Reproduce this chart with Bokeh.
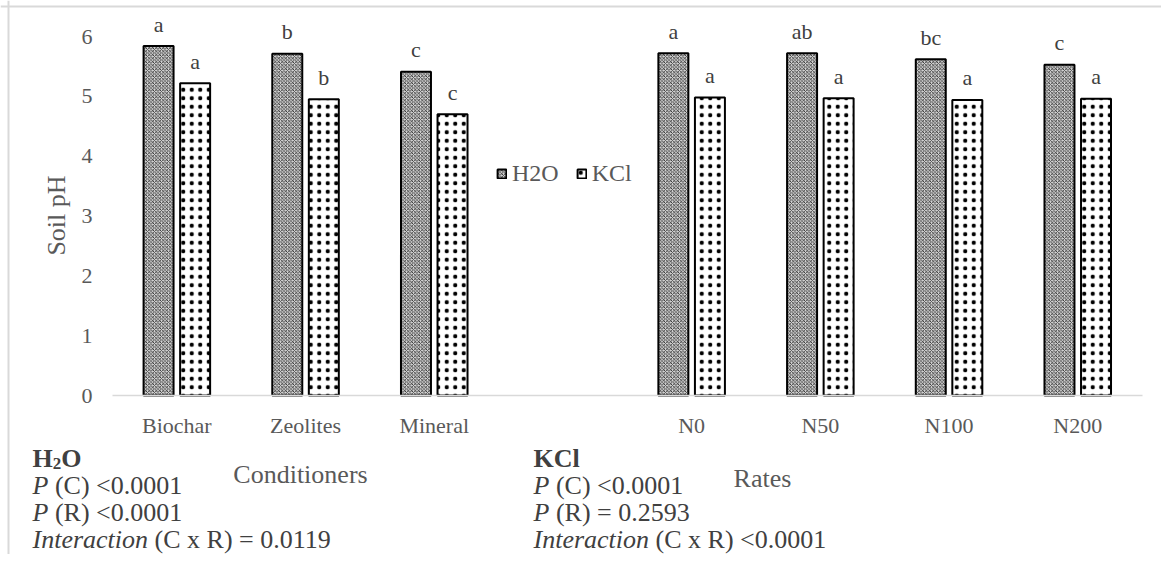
import numpy as np
from bokeh.plotting import figure
from bokeh.models import (Range1d, FixedTicker, Label, Legend, LegendItem,
                          ColumnDataSource, Span)
from bokeh.core.properties import value
from bokeh.embed import file_html
from bokeh.resources import INLINE

# ---------------- data ----------------
conditioners = ["Biochar", "Zeolites", "Mineral"]
rates = ["N0", "N50", "N100", "N200"]
h2o_cond = [5.84, 5.71, 5.41]
kcl_cond = [5.22, 4.95, 4.70]
h2o_rate = [5.72, 5.72, 5.62, 5.53]
kcl_rate = [4.98, 4.97, 4.94, 4.96]
h2o_cond_letters = ["a", "b", "c"]
kcl_cond_letters = ["a", "b", "c"]
h2o_rate_letters = ["a", "ab", "bc", "c"]
kcl_rate_letters = ["a", "a", "a", "a"]
y_ticks = [0, 1, 2, 3, 4, 5, 6]

# ---------------- layout ----------------
FONT = "Liberation Serif"
GRAY = "#595959"
DARK = "#404040"
W, H = 1161, 554
X0_PX, XU = 112, 128.7      # x pixel of category origin, px per category
Y0_PX, YU = 395, 59.83      # y pixel of value 0, px per pH unit


def dx(px):
    return (px - X0_PX) / XU


def dy(py):
    return (Y0_PX - py) / YU


cond_x = np.arange(len(conditioners)) + 0.5
rate_x = np.arange(len(rates)) + len(conditioners) + 1.5   # one empty slot
x_end = len(conditioners) + 1 + len(rates)

bar_w = 0.233
off = 0.142

h2o_x = np.concatenate([cond_x, rate_x]) - off
kcl_x = np.concatenate([cond_x, rate_x]) + off
h2o_top = h2o_cond + h2o_rate
kcl_top = kcl_cond + kcl_rate
lab_gap = 22 / YU

src_h = ColumnDataSource(dict(x=h2o_x, top=h2o_top,
                              lab=h2o_cond_letters + h2o_rate_letters,
                              ly=np.array(h2o_top) + lab_gap))
src_k = ColumnDataSource(dict(x=kcl_x, top=kcl_top,
                              lab=kcl_cond_letters + kcl_rate_letters,
                              ly=np.array(kcl_top) + lab_gap))

p = figure(width=W, height=H, output_backend="svg", toolbar_location=None,
           x_range=Range1d(dx(0), dx(W)), y_range=Range1d(dy(H), dy(0)),
           min_border_left=0, min_border_right=0,
           min_border_top=0, min_border_bottom=0)
p.outline_line_color = None
p.xgrid.visible = False
p.ygrid.visible = False
p.background_fill_color = "white"
p.border_fill_color = "white"

# chart-area border (top and left edges visible)
p.add_layout(Span(location=dy(6), dimension="width",
                  line_color="#d9d9d9", line_width=2))
p.add_layout(Span(location=dx(8), dimension="height",
                  line_color="#d9d9d9", line_width=2))

r_h = p.vbar(x="x", top="top", width=bar_w, source=src_h,
             fill_color="#d4d4d4", line_color="black", line_width=2,
             hatch_pattern="diagonal_cross", hatch_scale=3.5,
             hatch_weight=0.7, hatch_color="black")
r_k = p.vbar(x="x", top="top", width=bar_w, source=src_k,
             fill_color="white", line_color="black", line_width=2,
             hatch_pattern="dot", hatch_scale=8.5, hatch_weight=2.0,
             hatch_color="black")

for s in (src_h, src_k):
    p.text(x="x", y="ly", text="lab", source=s, text_align="center",
           text_baseline="alphabetic", text_font=value(FONT),
           text_font_size="22px", text_color=DARK)

# axes
ticks = [float(v) for v in list(cond_x) + list(rate_x)]
xa = p.xaxis[0]
xa.fixed_location = 0
xa.bounds = (0, x_end)
xa.ticker = FixedTicker(ticks=ticks)
xa.major_label_overrides = {t: l for t, l in zip(ticks, conditioners + rates)}
xa.axis_line_color = "#d9d9d9"
xa.axis_line_width = 1.5
xa.major_tick_line_color = None
xa.minor_tick_line_color = None
xa.major_label_standoff = 11
xa.major_label_text_font = FONT
xa.major_label_text_font_size = "22px"
xa.major_label_text_color = GRAY

ya = p.yaxis[0]
ya.fixed_location = 0
ya.bounds = (0, 6)
ya.ticker = FixedTicker(ticks=y_ticks)
ya.axis_line_color = None
ya.major_tick_line_color = None
ya.minor_tick_line_color = None
ya.major_label_standoff = 14
ya.major_label_text_font = FONT
ya.major_label_text_font_size = "22px"
ya.major_label_text_color = GRAY

legend = Legend(items=[LegendItem(label="H2O", renderers=[r_h]),
                       LegendItem(label="KCl", renderers=[r_k])],
                location=(496, 367), orientation="horizontal",
                border_line_color=None, background_fill_alpha=0,
                glyph_width=11, glyph_height=11, label_standoff=5,
                spacing=17, padding=0, margin=0,
                label_text_font=FONT, label_text_font_size="24px",
                label_text_color=GRAY)
p.add_layout(legend)


def lab(x, y, text, x_off=0, size="26px", style="normal", color=DARK,
        align="left", baseline="alphabetic", angle=0.0):
    p.add_layout(Label(x=x, y=y, text=text, x_offset=x_off, angle=angle,
                       text_font=FONT, text_font_size=size,
                       text_font_style=style, text_color=color,
                       text_align=align, text_baseline=baseline))


# axis titles
lab(dx(56), dy(215), "Soil pH", color=GRAY, align="center",
    baseline="middle", angle=np.pi / 2)
lab(dx(300), dy(474), "Conditioners", color=GRAY, align="center")
lab(dx(762), dy(478), "Rates", color=GRAY, align="center")

# statistics blocks
fs = 26
for bx, head, lines in [
    (32, "H2O", [("P", "(C) <0.0001"), ("P", "(R) <0.0001"),
                 ("Interaction", "(C x R) = 0.0119")]),
    (533, "KCl", [("P", "(C) <0.0001"), ("P", "(R) = 0.2593"),
                  ("Interaction", "(C x R) <0.0001")]),
]:
    x0 = dx(bx)
    if head == "H2O":
        lab(x0, dy(458), "H", style="bold")
        lab(x0, dy(458) - 5 / YU, "2", x_off=0.778 * fs, size="17px",
            style="bold")
        lab(x0, dy(458), "O", x_off=0.778 * fs + 8.5, style="bold")
    else:
        lab(x0, dy(458), head, style="bold")
    for i, (it, rest) in enumerate(lines):
        yy = dy(485 + 27 * i)
        itw = 0.611 if it == "P" else 4.444
        lab(x0, yy, it, style="italic")
        lab(x0, yy, rest, x_off=(itw + 0.25) * fs)

open("out.html", "w").write(file_html(p, INLINE))
